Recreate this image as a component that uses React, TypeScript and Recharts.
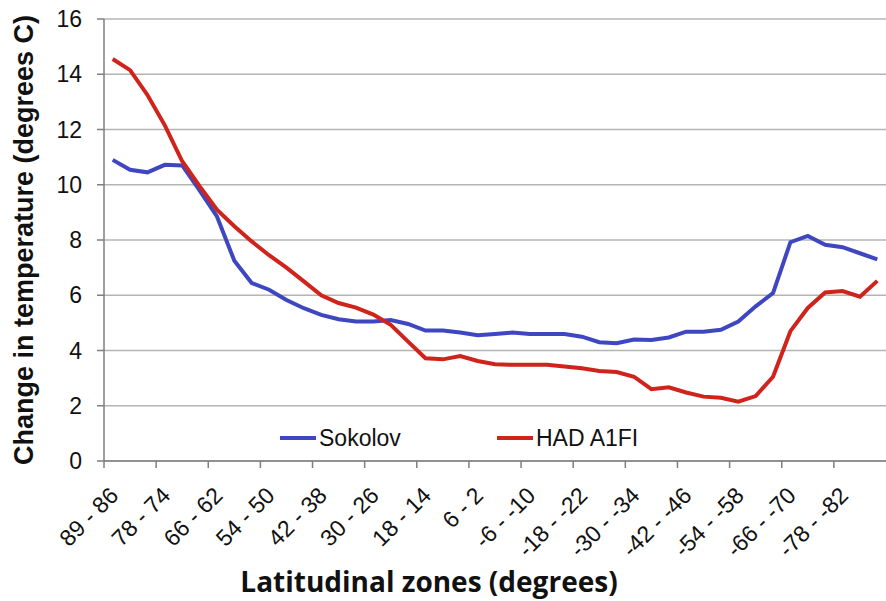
import { LineChart, Line, XAxis, YAxis, CartesianGrid } from 'recharts';

const zones = [
  '89 - 86', '86 - 82', '82 - 78', '78 - 74', '74 - 70', '70 - 66', '66 - 62', '62 - 58', '58 - 54',
  '54 - 50', '50 - 46', '46 - 42', '42 - 38', '38 - 34', '34 - 30', '30 - 26', '26 - 22', '22 - 18',
  '18 - 14', '14 - 10', '10 - 6', '6 - 2', '2 - -2', '-2 - -6', '-6 - -10', '-10 - -14', '-14 - -18',
  '-18 - -22', '-22 - -26', '-26 - -30', '-30 - -34', '-34 - -38', '-38 - -42', '-42 - -46', '-46 - -50',
  '-50 - -54', '-54 - -58', '-58 - -62', '-62 - -66', '-66 - -70', '-70 - -74', '-74 - -78', '-78 - -82',
  '-82 - -86', '-86 - -89',
];

const sokolov = [
  10.9, 10.54, 10.45, 10.72, 10.7, 9.8, 8.85, 7.25, 6.44, 6.2, 5.83, 5.53, 5.29, 5.13, 5.05,
  5.05, 5.1, 4.96, 4.72, 4.72, 4.65, 4.55, 4.6, 4.65, 4.6, 4.6, 4.6, 4.5, 4.3, 4.26,
  4.4, 4.38, 4.47, 4.68, 4.68, 4.75, 5.05, 5.6, 6.08, 7.92, 8.15, 7.83, 7.74, 7.52, 7.3,
];

const hadA1fi = [
  14.55, 14.15, 13.25, 12.15, 10.85, 9.95, 9.1, 8.5, 7.95, 7.45, 7.0, 6.5, 6.0, 5.72, 5.55,
  5.3, 4.93, 4.32, 3.72, 3.68, 3.8, 3.62, 3.5, 3.48, 3.48, 3.48, 3.42, 3.36, 3.26, 3.22,
  3.05, 2.6, 2.67, 2.48, 2.33, 2.29, 2.15, 2.35, 3.05, 4.7, 5.54, 6.1, 6.15, 5.95, 6.52,
];

const yTicks = [0, 2, 4, 6, 8, 10, 12, 14, 16];

const series = [
  { key: 'sokolov', name: 'Sokolov', color: '#3f47c0' },
  { key: 'had', name: 'HAD A1FI', color: '#d0231b' },
];

const data = zones.map((zone, i) => ({ zone, sokolov: sokolov[i], had: hadA1fi[i] }));

const W = 886;
const H = 601;
const AXIS_W = 104;
const BAND = (W - AXIS_W) / zones.length;
const ARIAL = '"Liberation Sans", Arial, sans-serif';

// Excel-style category axis: tick marks sit between categories, labels slanted
function ZoneTick(props: any) {
  const { x, y, payload } = props;
  const tx = x - BAND / 2;
  const ax = x + 7;
  const ay = y + 36;
  return (
    <g>
      <line x1={tx} y1={y} x2={tx} y2={y + 7} stroke="#7f7f7f" strokeWidth={1.5} />
      <text
        x={ax}
        y={ay}
        textAnchor="end"
        transform={`rotate(-45, ${ax}, ${ay})`}
        fontFamily={ARIAL}
        fontSize={23}
        fill="#111"
      >
        {payload.value}
      </text>
    </g>
  );
}

export default function App() {
  const legendLeft = [280, 497];
  return (
    <div style={{ position: 'absolute', left: 0, top: 0, width: W, height: H, background: '#fff' }}>
      <LineChart width={W} height={H} data={data} margin={{ top: 19, right: 0, left: 0, bottom: 0 }}>
        <CartesianGrid vertical={false} stroke="#b4b4b4" strokeWidth={1.5} />
        <XAxis
          dataKey="zone"
          height={140}
          interval={2}
          padding={{ left: BAND / 2, right: BAND / 2 }}
          tickLine={false}
          tickSize={0}
          tickMargin={0}
          stroke="#7f7f7f"
          strokeWidth={1.5}
          tick={<ZoneTick />}
          label={{
            content: () => (
              <text x={429} y={592} textAnchor="middle" fontFamily='"Open Sans", sans-serif' fontWeight={700} fontSize={28} fill="#111">
                Latitudinal zones (degrees)
              </text>
            ),
          }}
        />
        <YAxis
          width={AXIS_W}
          domain={[0, 16]}
          ticks={yTicks}
          tickSize={7}
          tickMargin={15}
          stroke="#7f7f7f"
          strokeWidth={1.5}
          tick={{ fontFamily: ARIAL, fontSize: 23, fill: '#111' }}
          label={{
            content: () => (
              <text
                x={33}
                y={240}
                textAnchor="middle"
                transform="rotate(-90, 33, 240)"
                fontFamily={ARIAL}
                fontWeight={700}
                fontSize={27}
                fill="#111"
              >
                Change in temperature (degrees C)
              </text>
            ),
          }}
        />
        {series.map((s) => (
          <Line
            key={s.key}
            type="linear"
            dataKey={s.key}
            name={s.name}
            stroke={s.color}
            strokeWidth={4}
            dot={false}
            isAnimationActive={false}
          />
        ))}
      </LineChart>
      {series.map((s, i) => (
        <div
          key={s.key}
          style={{
            position: 'absolute',
            left: legendLeft[i],
            top: 423,
            height: 30,
            display: 'flex',
            alignItems: 'center',
            fontFamily: ARIAL,
            fontSize: 23,
            color: '#111',
          }}
        >
          <span style={{ display: 'inline-block', width: 36, height: 4, background: s.color, marginRight: 3 }} />
          <span>{s.name}</span>
        </div>
      ))}
    </div>
  );
}
